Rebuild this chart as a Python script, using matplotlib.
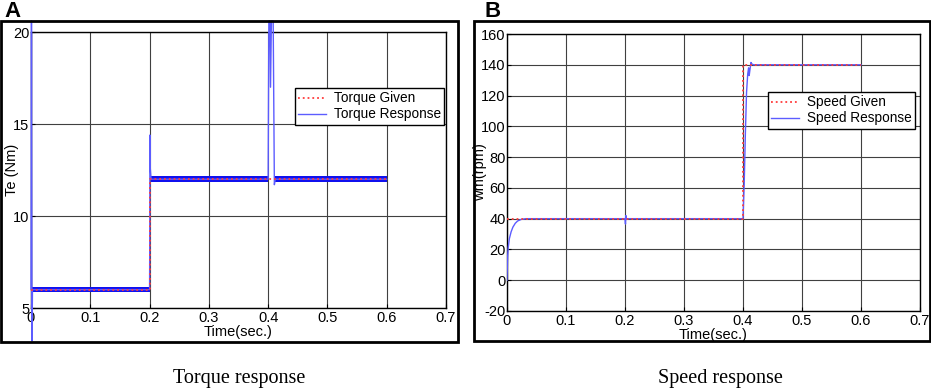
import matplotlib
matplotlib.use("Agg")
import matplotlib.pyplot as plt
from matplotlib.patches import Rectangle

plt.rcParams['font.family'] = ['Liberation Sans', 'DejaVu Sans']
plt.rcParams['axes.unicode_minus'] = False

# ---------------- data ----------------
# Panel A: torque
tq_given_t = [0.0, 0.2, 0.2, 0.6]
tq_given_v = [6, 6, 12, 12]
tq_resp_t = [0.0, 0.0008, 0.0016, 0.0025, 0.2, 0.2003, 0.2006, 0.2012, 0.2025,
             0.4, 0.4012, 0.4030, 0.4040, 0.4055, 0.4085, 0.4105, 0.4120, 0.6]
tq_resp_v = [6, 20.6, 3.2, 6, 6, 8.7, 14.4, 12.6, 12,
             12, 20.6, 20.6, 17.0, 20.6, 20.6, 11.7, 12, 12]
# ripple bands (start, end, level, half-width)
tq_band_start = [0.0025, 0.2025, 0.4120]
tq_band_end = [0.2, 0.4, 0.6]
tq_band_level = [6, 12, 12]
tq_band_half = [0.13, 0.17, 0.15]

tq_xticks = [0, 0.1, 0.2, 0.3, 0.4, 0.5, 0.6, 0.7]
tq_xticklabels = ['0', '0.1', '0.2', '0.3', '0.4', '0.5', '0.6', '0.7']
tq_yticks = [5, 10, 15, 20]

# Panel B: speed
sp_given_t = [0.0, 0.4, 0.4, 0.6]
sp_given_v = [40, 40, 140, 140]
sp_resp_t = [0.0, 0.001, 0.002, 0.004, 0.007, 0.010, 0.014, 0.018, 0.024, 0.032, 0.04,
             0.2, 0.2008, 0.2015, 0.2025, 0.204,
             0.4, 0.402, 0.404, 0.406, 0.408, 0.4095, 0.4105, 0.4115, 0.4135, 0.415,
             0.418, 0.6]
sp_resp_v = [0, 15, 21, 27, 31.5, 34.5, 37, 38.5, 39.5, 40, 40,
             40, 36.5, 42, 39.5, 40,
             40, 62, 95, 122, 134, 138, 133, 136, 141.5, 140.5,
             140, 140]
sp_xticks = tq_xticks
sp_xticklabels = tq_xticklabels
sp_yticks = [-20, 0, 20, 40, 60, 80, 100, 120, 140, 160]

RED = '#ff3b3b'
BLUE_LIGHT = '#5c5cff'
BLUE_DARK = '#1010ee'

W, H = 931, 389
fig = plt.figure(figsize=(W / 100, H / 100), dpi=100)


def fx(px):
    return px / W


def fy(py):
    return 1 - py / H


def style_axes(ax, xticks, xlabels, yticks, ylim, ylabel, ylabel_x):
    ax.set_xlim(0, 0.7)
    ax.set_ylim(*ylim)
    ax.set_xticks(xticks)
    ax.set_xticklabels(xlabels)
    ax.set_yticks(yticks)
    ax.grid(True, color='0.25', linewidth=0.8)
    ax.tick_params(direction='in', length=3, labelsize=10.5, pad=2, colors='black')
    ax.tick_params(axis='y', pad=1)
    for s in ax.spines.values():
        s.set_linewidth(1.0)
        s.set_color('black')
    ax.set_xlabel('Time(sec.)', fontsize=10.5, labelpad=0)
    ax.set_ylabel(ylabel, fontsize=10.5)
    ax.yaxis.set_label_coords(ylabel_x, 0.5)
    ax.set_axisbelow(True)


# outer boxes
for (x0, y0, x1, y1) in [(1, 21, 458, 342), (474, 21, 930, 341)]:
    fig.patches.append(Rectangle((fx(x0), fy(y1)), fx(x1) - fx(x0), fy(y0) - fy(y1),
                                 transform=fig.transFigure, fill=False,
                                 edgecolor='black', linewidth=2.0, zorder=0))

# ---- Panel A ----
axA = fig.add_axes([fx(31), fy(308), fx(446) - fx(31), fy(32) - fy(308)])
style_axes(axA, tq_xticks, tq_xticklabels, tq_yticks, (5, 20), 'Te (Nm)',
           (19 - 31) / 415)
for s, e, lv, hw in zip(tq_band_start, tq_band_end, tq_band_level, tq_band_half):
    axA.fill_between([s, e], [lv - hw, lv - hw], [lv + hw, lv + hw],
                     color=BLUE_DARK, linewidth=0, zorder=3)
axA.plot(tq_resp_t, tq_resp_v, color=BLUE_LIGHT, linewidth=1.0, zorder=4,
         clip_on=False, label='Torque Response')
axA.plot(tq_given_t, tq_given_v, color=RED, linestyle=':', linewidth=1.3, zorder=5,
         label='Torque Given')
hA, lA = axA.get_legend_handles_labels()
legA = axA.legend([hA[1], hA[0]], [lA[1], lA[0]], loc='upper left',
                  bbox_to_anchor=(fx(295), fy(88)), bbox_transform=fig.transFigure,
                  fontsize=9.8, frameon=True, fancybox=False, framealpha=1,
                  edgecolor='black', handlelength=2.0, borderpad=0.25,
                  labelspacing=0.15, handletextpad=0.6, borderaxespad=0)
legA.get_frame().set_linewidth(1.0)

# ---- Panel B ----
axB = fig.add_axes([fx(507), fy(311), fx(920) - fx(507), fy(34) - fy(311)])
style_axes(axB, sp_xticks, sp_xticklabels, sp_yticks, (-20, 160), 'wm(rpm)',
           (487 - 507) / 413)
axB.plot(sp_resp_t, sp_resp_v, color=BLUE_LIGHT, linewidth=1.0, zorder=4,
         label='Speed Response')
axB.plot(sp_given_t, sp_given_v, color=RED, linestyle=':', linewidth=1.3, zorder=5,
         label='Speed Given')
hB, lB = axB.get_legend_handles_labels()
legB = axB.legend([hB[1], hB[0]], [lB[1], lB[0]], loc='upper left',
                  bbox_to_anchor=(fx(768), fy(92)), bbox_transform=fig.transFigure,
                  fontsize=9.8, frameon=True, fancybox=False, framealpha=1,
                  edgecolor='black', handlelength=2.0, borderpad=0.25,
                  labelspacing=0.15, handletextpad=0.6, borderaxespad=0)
legB.get_frame().set_linewidth(1.0)

# panel letters
fig.text(fx(4), fy(1), 'A', fontsize=16, fontweight='bold', ha='left', va='top')
fig.text(fx(484), fy(1), 'B', fontsize=16, fontweight='bold', ha='left', va='top')

# captions
fig.text(fx(239), fy(379), 'Torque response', fontsize=14.5, ha='center', va='center',
         family=['Liberation Serif', 'DejaVu Serif'])
fig.text(fx(720), fy(379), 'Speed response', fontsize=14.5, ha='center', va='center',
         family=['Liberation Serif', 'DejaVu Serif'])

fig.savefig('out.png', dpi=100)
